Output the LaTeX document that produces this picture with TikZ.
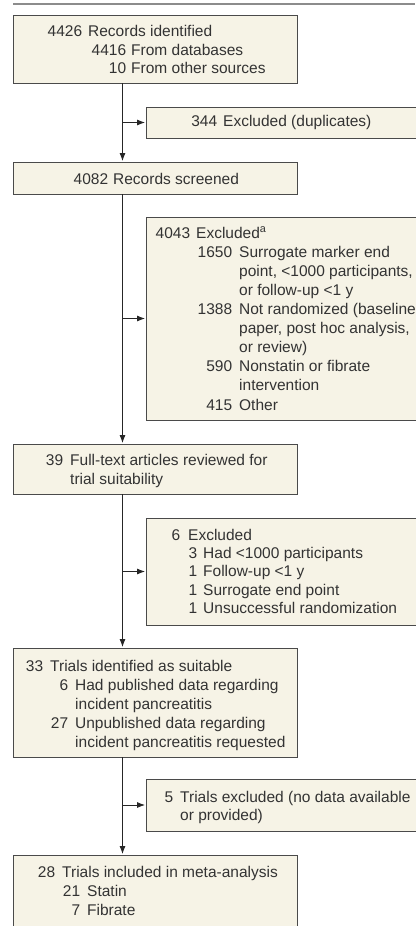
\documentclass[tikz,border=0pt]{standalone}
\usepackage{fontspec}
\setmainfont{Liberation Sans}
\usetikzlibrary{arrows.meta,shadows}
\definecolor{boxfill}{HTML}{F6F3E6}
\definecolor{boxline}{HTML}{4A4A4A}
\definecolor{txtcol}{HTML}{333333}
\definecolor{rulecol}{HTML}{8C8C8C}
\newcommand\row[4]{\strut\rlap{\makebox[#1pt][r]{#2}}\hspace*{#3pt}#4}
\begin{document}
\begin{tikzpicture}[x=1pt,y=-1pt,
  box/.style={draw=boxline, fill=boxfill, line width=0.9pt, inner sep=0pt, outer sep=0pt,
    drop shadow={shadow xshift=0.8pt, shadow yshift=-0.9pt, fill=black, opacity=0.35}},
  txt/.style={anchor=north west, align=left, inner sep=0pt, text=txtcol, font=\fontsize{15.5}{#1}\selectfont},
  txt/.default=18.6,
  arr/.style={draw=black!85, line width=0.8pt, -{Latex[length=8pt,width=6pt]}, shorten >=1pt}]
\useasboundingbox (0,0) rectangle (415,926);
\coordinate (r0) at (13,4);
\coordinate (r1) at (415,4);
\draw[rulecol, line width=1.3pt] (r0) -- (r1);
\coordinate (tx) at (122.5,0);
% boxes
\node[box, minimum width=284pt, minimum height=68pt] (b1) at (155,49) {};
\node[box, minimum width=279pt, minimum height=31pt] (b2) at (285.5,122.5) {};
\node[box, minimum width=284pt, minimum height=32pt] (b3) at (155,178) {};
\node[box, minimum width=279pt, minimum height=203pt] (b4) at (285.5,318.5) {};
\node[box, minimum width=284pt, minimum height=50pt] (b5) at (155,469) {};
\node[box, minimum width=279pt, minimum height=107pt] (b6) at (285.5,571.5) {};
\node[box, minimum width=284pt, minimum height=109pt] (b7) at (155,702.5) {};
\node[box, minimum width=279pt, minimum height=52pt] (b8) at (285.5,805) {};
\node[box, minimum width=284pt, minimum height=90pt] (b9) at (155,900) {};
% texts
\node[txt=18.2] (t1) at (13,24) {\row{69}{4426}{75}{Records identified}\\
  \row{113}{4416}{118}{From databases}\\
  \row{113}{10}{118}{From other sources}};
\node[txt] (t2) at (146,113) {\row{71}{344}{77}{Excluded (duplicates)}};
\node[txt] (t3) at (13,171) {\row{95}{4082}{100}{Records screened}};
\node[txt=19.1] (t4) at (146,224.6) {\row{44}{4043}{50}{Excluded\textsuperscript{a}}\\
  \row{86}{1650}{93}{Surrogate marker end}\\
  \row{86}{}{93}{point, <1000 participants,}\\
  \row{86}{}{93}{or follow-up <1 y}\\
  \row{86}{1388}{93}{Not randomized (baseline}\\
  \row{86}{}{93}{paper, post hoc analysis,}\\
  \row{86}{}{93}{or review)}\\
  \row{86}{590}{93}{Nonstatin or fibrate}\\
  \row{86}{}{93}{intervention}\\
  \row{86}{415}{93}{Other}};
\node[txt] (t5) at (13,452.5) {\row{50}{39}{57}{Full-text articles reviewed for}\\
  \row{50}{}{57}{trial suitability}};
\node[txt=18.3] (t6) at (146,527.2) {\row{34}{6}{42}{Excluded}\\
  \row{51}{3}{57}{Had <1000 participants}\\
  \row{51}{1}{57}{Follow-up <1 y}\\
  \row{51}{1}{57}{Surrogate end point}\\
  \row{51}{1}{57}{Unsuccessful randomization}};
\node[txt=19] (t7) at (13,657.7) {\row{30}{33}{37}{Trials identified as suitable}\\
  \row{55}{6}{62}{Had published data regarding}\\
  \row{55}{}{62}{incident pancreatitis}\\
  \row{55}{27}{62}{Unpublished data regarding}\\
  \row{55}{}{62}{incident pancreatitis requested}};
\node[txt] (t8) at (146,789) {\row{27}{5}{34}{Trials excluded (no data available}\\
  \row{27}{}{34}{or provided)}};
\node[txt=19] (t9) at (13,863.7) {\row{42}{28}{49}{Trials included in meta-analysis}\\
  \row{67}{21}{74}{Statin}\\
  \row{67}{7}{74}{Fibrate}};
% connectors
\draw[arr] (b1.south -| tx) -- (b3.north -| tx);
\draw[arr] (b2.west -| tx) -- (b2.west);
\draw[arr] (b3.south -| tx) -- (b5.north -| tx);
\draw[arr] (b4.west -| tx) -- (b4.west);
\draw[arr] (b5.south -| tx) -- (b7.north -| tx);
\draw[arr] (b6.west -| tx) -- (b6.west);
\draw[arr] (b7.south -| tx) -- (b9.north -| tx);
\draw[arr] (b8.west -| tx) -- (b8.west);
\end{tikzpicture}
\end{document}
